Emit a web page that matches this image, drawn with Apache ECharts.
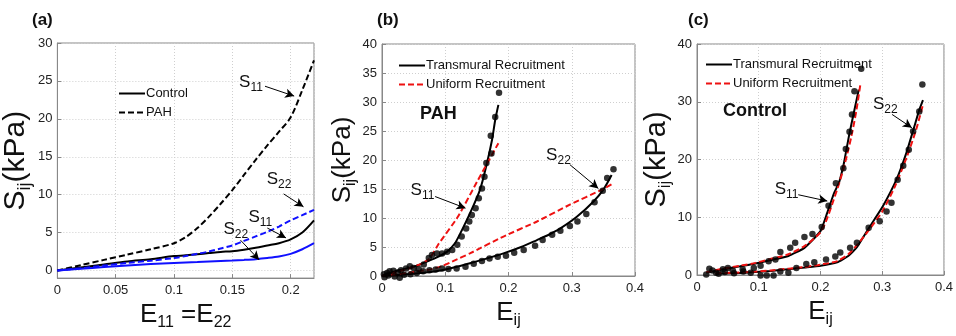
<!DOCTYPE html>
<html><head><meta charset="utf-8">
<script src="https://cdn.jsdelivr.net/npm/echarts@6.0.0/dist/echarts.min.js"></script>
<style>html,body{margin:0;padding:0;background:#fff}#c{width:956px;height:336px}</style>
</head><body><div id="c"></div>
<script>
// ---------- Panel (a): model curves, E11 = E22 ----------
const A_E        = [0, 0.02, 0.04, 0.06, 0.08, 0.10, 0.11, 0.12, 0.13, 0.14, 0.15, 0.16, 0.17, 0.18, 0.19, 0.20, 0.21, 0.22];
const A_PAH_S11  = [0, 0.7, 1.4, 2.1, 2.8, 3.6, 4.4, 5.6, 7.1, 8.8, 10.6, 12.6, 14.6, 16.5, 18.3, 20.2, 23.8, 27.7];
const A_CTL_S11  = [0, 0.4, 0.8, 1.2, 1.5, 1.9, 2.0, 2.15, 2.3, 2.45, 2.55, 2.75, 3.0, 3.3, 3.6, 4.1, 5.0, 6.6];
const A_PAH_S22  = [0, 0.3, 0.65, 1.0, 1.3, 1.65, 1.9, 2.2, 2.5, 2.9, 3.3, 3.9, 4.5, 5.1, 5.8, 6.6, 7.3, 8.0];
const A_CTL_S22  = [0, 0.23, 0.45, 0.65, 0.85, 1.0, 1.07, 1.13, 1.2, 1.26, 1.32, 1.4, 1.5, 1.65, 1.85, 2.2, 2.8, 3.6];
const A_X_TICKS  = [0, 0.05, 0.1, 0.15, 0.2];
const A_Y_TICKS  = [0, 5, 10, 15, 20, 25, 30];

// ---------- Panel (b): PAH ----------
const B_S11_T_E = [0, 0.024, 0.05, 0.071, 0.09, 0.103, 0.115, 0.124, 0.139, 0.155, 0.166, 0.174, 0.179, 0.184];
const B_S11_T   = [0, 0.9, 1.6, 2.5, 3.4, 4.2, 5.6, 7.4, 10.8, 14.9, 19.5, 23.5, 26.9, 29.5];
const B_S11_U_E = [0, 0.02, 0.04, 0.06, 0.075, 0.09, 0.12, 0.15, 0.184];
const B_S11_U   = [0, 0.6, 1.2, 2.0, 3.0, 5.6, 10.2, 16.2, 22.9];
const B_S22_T_E = [0, 0.03, 0.06, 0.09, 0.115, 0.139, 0.165, 0.192, 0.22, 0.245, 0.265, 0.282, 0.308, 0.334, 0.35, 0.363];
const B_S22_T   = [0, 0.2, 0.5, 0.9, 1.5, 2.2, 3.0, 3.9, 5.0, 6.2, 7.2, 8.2, 10.2, 12.8, 14.9, 17.4];
const B_S22_U_E = [0, 0.025, 0.05, 0.075, 0.095, 0.115, 0.139, 0.192, 0.245, 0.297, 0.35, 0.366];
const B_S22_U   = [0, 0.3, 0.7, 1.1, 1.7, 2.7, 3.9, 6.8, 9.4, 12.3, 15.0, 16.0];
const B_S11_PTS_E = [0.003, 0.008, 0.012, 0.018, 0.025, 0.03, 0.038, 0.044, 0.05, 0.058, 0.066, 0.074, 0.079, 0.087, 0.095, 0.103, 0.111, 0.119, 0.126, 0.133, 0.138, 0.142, 0.148, 0.153, 0.158, 0.162, 0.165, 0.172, 0.173, 0.179, 0.185];
const B_S11_PTS   = [0.3, 0.5, 0.8, 0.9, 0.6, 1.0, 1.3, 1.7, 1.4, 1.2, 2.0, 3.1, 3.6, 3.9, 3.9, 4.2, 4.5, 5.4, 6.8, 8.2, 9.4, 10.5, 11.7, 13.4, 15.1, 17.1, 19.5, 24.2, 21.1, 27.4, 31.6];
const B_S22_PTS_E = [0.004, 0.01, 0.02, 0.028, 0.035, 0.045, 0.055, 0.065, 0.075, 0.085, 0.095, 0.105, 0.118, 0.132, 0.145, 0.158, 0.17, 0.183, 0.196, 0.209, 0.224, 0.242, 0.254, 0.269, 0.282, 0.297, 0.309, 0.323, 0.336, 0.349, 0.356, 0.366];
const B_S22_PTS   = [-0.2, 0.1, -0.1, -0.3, 0.2, 0.3, 0.5, 0.8, 1.0, 1.1, 1.3, 1.2, 1.3, 1.6, 2.1, 2.6, 3.0, 3.3, 3.5, 4.0, 4.5, 5.2, 6.2, 7.1, 7.8, 8.6, 9.4, 10.7, 12.7, 14.7, 16.9, 18.4];

// ---------- Panel (c): Control ----------
const C_S11_T_E = [0.015, 0.042, 0.07, 0.095, 0.12, 0.148, 0.174, 0.2, 0.211, 0.222, 0.23, 0.238, 0.246, 0.254, 0.262];
const C_S11_T   = [0.4, 1.0, 1.5, 2.0, 2.6, 3.3, 4.7, 7.6, 10.8, 14.2, 16.0, 19.4, 24.0, 28.1, 32.1];
const C_S11_U_E = [0.015, 0.042, 0.07, 0.095, 0.12, 0.148, 0.174, 0.2, 0.21, 0.22, 0.23, 0.24, 0.25, 0.258, 0.265];
const C_S11_U   = [0.5, 1.1, 1.6, 2.1, 2.8, 3.6, 5.0, 7.4, 9.6, 12.6, 15.8, 19.5, 24.0, 28.4, 33.3];
const C_S22_T_E = [0.03, 0.06, 0.095, 0.12, 0.148, 0.175, 0.2, 0.227, 0.245, 0.259, 0.28, 0.301, 0.323, 0.339, 0.352, 0.36, 0.366];
const C_S22_T   = [0.2, 0.3, 0.5, 0.7, 1.0, 1.3, 1.6, 2.2, 3.3, 4.8, 8.4, 11.9, 16.5, 21.1, 25.7, 28.6, 30.3];
const C_S22_U_E = [0.03, 0.06, 0.095, 0.12, 0.148, 0.175, 0.2, 0.227, 0.245, 0.26, 0.28, 0.3, 0.32, 0.34, 0.355, 0.366];
const C_S22_U   = [0.3, 0.4, 0.6, 0.8, 1.1, 1.4, 1.8, 2.4, 3.6, 5.3, 8.0, 11.0, 15.2, 20.5, 25.2, 29.5];
const C_S11_PTS_E = [0.015, 0.02, 0.031, 0.042, 0.05, 0.058, 0.074, 0.092, 0.103, 0.116, 0.127, 0.135, 0.151, 0.159, 0.174, 0.187, 0.202, 0.213, 0.225, 0.237, 0.241, 0.247, 0.251, 0.255, 0.266];
const C_S11_PTS   = [0.1, 1.1, 0.4, 1.0, 1.2, 0.8, 1.0, 1.2, 1.6, 2.4, 2.7, 4.0, 4.7, 5.6, 6.6, 7.1, 8.3, 12.0, 15.9, 18.5, 21.8, 24.8, 27.8, 31.8, 35.7];
const C_S22_PTS_E = [0.025, 0.035, 0.045, 0.06, 0.075, 0.087, 0.103, 0.113, 0.124, 0.135, 0.148, 0.161, 0.177, 0.19, 0.209, 0.224, 0.232, 0.248, 0.259, 0.278, 0.296, 0.307, 0.315, 0.325, 0.334, 0.343, 0.35, 0.36, 0.365];
const C_S22_PTS   = [0.8, 0.2, 0.5, 0.3, 0.6, 0.4, -0.1, -0.1, -0.1, 0.6, 0.4, 1.2, 1.9, 2.2, 2.7, 3.2, 3.9, 4.7, 5.6, 8.2, 9.3, 11.0, 12.5, 16.5, 18.9, 21.7, 24.9, 28.3, 33.0];

// ---------- annotation labels (text, label point, arrow tail, arrow head) in data units ----------
const A_NOTES = [
  {sub: '11', at: [0.166, 24.7], from: [0.178, 24.3], to: [0.203, 23.0]},
  {sub: '22', at: [0.190, 11.9], from: [0.194, 10.1], to: [0.211, 8.4]},
  {sub: '11', at: [0.174, 6.9],  from: [0.180, 5.6],  to: [0.196, 4.3]},
  {sub: '22', at: [0.153, 5.3],  from: [0.157, 4.0],  to: [0.173, 1.4]}
];
const B_NOTES = [
  {sub: '11', at: [0.064, 14.6], from: [0.084, 13.7], to: [0.132, 11.7]},
  {sub: '22', at: [0.279, 20.6], from: [0.297, 19.2], to: [0.342, 15.1]}
];
const C_NOTES = [
  {sub: '11', at: [0.145, 14.6], from: [0.164, 13.9], to: [0.211, 12.8]},
  {sub: '22', at: [0.305, 29.4], from: [0.316, 27.8], to: [0.348, 25.5]}
];

const zip = (xs, ys) => xs.map((x, i) => [x, ys[i]]);
const FONT = 'Liberation Sans, Arial, sans-serif';
const BLUE = '#1010ff', RED = '#ee1111';

function richName(fs, ss, pad) {
  return {
    m: {fontSize: fs, lineHeight: fs + 2, verticalAlign: 'top', fontFamily: FONT, color: '#111'},
    b: {fontSize: ss, lineHeight: ss, verticalAlign: 'top', padding: [pad, 0, 0, 0], fontFamily: FONT, color: '#111'}
  };
}
function xAxis(gi, max, interval, name, gap, rich, hideMax) {
  return {
    type: 'value', gridIndex: gi, min: 0, max: max, interval: interval,
    name: name, nameLocation: 'middle', nameGap: gap,
    nameTextStyle: {rich: rich},
    axisLine: {show: true, onZero: false, lineStyle: {color: '#888'}},
    axisTick: {show: true, inside: true, length: 4, lineStyle: {color: '#888'}},
    axisLabel: {fontFamily: FONT, fontSize: 13, color: '#222', margin: 6, showMaxLabel: !hideMax, hideOverlap: false},
    splitLine: {show: true, lineStyle: {color: '#cfcfcf', type: [1, 2]}}
  };
}
function yAxis(gi, min, max, step, name, gap, rich, hideMin) {
  return {
    type: 'value', gridIndex: gi, min: min, max: max, minInterval: step, maxInterval: step, splitNumber: 8,
    name: name, nameLocation: 'middle', nameGap: gap,
    nameTextStyle: {rich: rich},
    axisLine: {show: true, lineStyle: {color: '#888'}},
    axisTick: {show: true, inside: true, length: 4, lineStyle: {color: '#888'}},
    axisLabel: {fontFamily: FONT, fontSize: 13, color: '#222', margin: 5, showMinLabel: !hideMin, hideOverlap: false},
    splitLine: {show: true, lineStyle: {color: '#cfcfcf', type: [1, 2]}}
  };
}
function notes(list) {
  return {
    markLine: {
      silent: true, animation: false, symbol: ['none', 'arrow'], symbolSize: [7, 9],
      lineStyle: {color: '#000', width: 1, type: 'solid'}, label: {show: false},
      data: list.map(n => [{coord: n.from}, {coord: n.to}])
    },
    markPoint: {
      silent: true, animation: false, symbol: 'circle', symbolSize: 1, itemStyle: {color: 'rgba(0,0,0,0)'},
      label: {show: true, position: 'inside', formatter: p => '{m|S}{b|' + p.name + '}',
        rich: {
          m: {fontSize: 17, lineHeight: 19, verticalAlign: 'top', fontFamily: FONT, color: '#111'},
          b: {fontSize: 12, lineHeight: 12, verticalAlign: 'top', padding: [8, 0, 0, 0], fontFamily: FONT, color: '#111'}
        }},
      data: list.map(n => ({name: n.sub, coord: n.at}))
    }
  };
}
function line(name, gi, data, color, dashed, extra) {
  return Object.assign({
    type: 'line', name: name, xAxisIndex: gi, yAxisIndex: gi, data: data,
    symbol: 'none', smooth: 0.3, clip: false, silent: true,
    lineStyle: {color: color, width: 2, type: dashed ? [6, 3] : 'solid'},
    itemStyle: {color: color}, z: 3
  }, extra || {});
}
function dots(name, gi, data) {
  return {type: 'scatter', name: name, xAxisIndex: gi, yAxisIndex: gi, data: data,
    symbol: 'circle', symbolSize: 6.5, clip: false, silent: true, itemStyle: {color: '#000'}, z: 4};
}
function legend(names, left, top) {
  return {data: names, orient: 'vertical', left: left, top: top, itemWidth: 26, itemHeight: 12, itemGap: 6,
    itemStyle: {opacity: 0, borderWidth: 0},
    textStyle: {fontFamily: FONT, fontSize: 13, color: '#111', padding: [0, 0, 0, -4]}, selectedMode: false};
}

const yRichA = richName(30, 18, 15);
const yRichB = richName(26, 16, 13);
const yRichC = richName(29, 17, 14);
const xRich = richName(26, 16, 13);

const option = {
  backgroundColor: '#fff',
  animation: false,
  title: [
    {text: '(a)', left: 27, top: 7, textStyle: {fontFamily: FONT, fontSize: 17, fontWeight: 'bold', color: '#111'}},
    {text: '(b)', left: 372, top: 7, textStyle: {fontFamily: FONT, fontSize: 17, fontWeight: 'bold', color: '#111'}},
    {text: '(c)', left: 683, top: 7, textStyle: {fontFamily: FONT, fontSize: 17, fontWeight: 'bold', color: '#111'}},
    {text: 'PAH', left: 415, top: 100, textStyle: {fontFamily: FONT, fontSize: 18, fontWeight: 'bold', color: '#111'}},
    {text: 'Control', left: 718, top: 97, textStyle: {fontFamily: FONT, fontSize: 18, fontWeight: 'bold', color: '#111'}}
  ],
  legend: [
    legend(['Control', 'PAH'], 113, 82),
    legend(['Transmural Recruitment', 'Uniform Recruitment'], 393, 54),
    legend(['Transmural Recruitment', 'Uniform Recruitment'], 700, 53)
  ],
  grid: [
    {left: 55, top: 43, width: 259, height: 238, show: true, borderColor: '#888', borderWidth: 1, backgroundColor: 'transparent'},
    {left: 382, top: 44, width: 253, height: 232, show: true, borderColor: '#888', borderWidth: 1, backgroundColor: 'transparent'},
    {left: 697, top: 44, width: 252, height: 231, show: true, borderColor: '#888', borderWidth: 1, backgroundColor: 'transparent'}
  ],
  xAxis: [
    xAxis(0, 0.22, 0.05, '{m|E}{b|11}{m| =E}{b|22}', 10, xRich, true),
    xAxis(1, 0.4, 0.1, '{m|E}{b|ij}', 17, xRich, false),
    xAxis(2, 0.4, 0.1, '{m|E}{b|ij}', 17, xRich, false)
  ],
  yAxis: [
    yAxis(0, -1, 30, 5, '{m|S}{b|ij}{m|(kPa)}', 16, yRichA, true),
    yAxis(1, 0, 40, 5, '{m|S}{b|ij}{m|(kPa)}', 20, yRichB, false),
    yAxis(2, 0, 40, 10, '{m|S}{b|ij}{m|(kPa)}', 16, yRichC, false)
  ],
  series: [
    line('Control', 0, zip(A_E, A_CTL_S11), '#000', false, notes(A_NOTES)),
    line('PAH', 0, zip(A_E, A_PAH_S11), '#000', true),
    line('Control S22', 0, zip(A_E, A_CTL_S22), BLUE, false),
    line('PAH S22', 0, zip(A_E, A_PAH_S22), BLUE, true),

    line('Transmural Recruitment', 1, zip(B_S11_T_E, B_S11_T), '#000', false, notes(B_NOTES)),
    line('Transmural Recruitment', 1, zip(B_S22_T_E, B_S22_T), '#000', false),
    line('Uniform Recruitment', 1, zip(B_S11_U_E, B_S11_U), RED, true, {smooth: 0.15}),
    line('Uniform Recruitment', 1, zip(B_S22_U_E, B_S22_U), RED, true, {smooth: 0.15}),
    dots('PAH data S11', 1, zip(B_S11_PTS_E, B_S11_PTS)),
    dots('PAH data S22', 1, zip(B_S22_PTS_E, B_S22_PTS)),

    line('Transmural Recruitment', 2, zip(C_S11_T_E, C_S11_T), '#000', false, Object.assign({smooth: 0.15}, notes(C_NOTES))),
    line('Transmural Recruitment', 2, zip(C_S22_T_E, C_S22_T), '#000', false, {smooth: 0.15}),
    line('Uniform Recruitment', 2, zip(C_S11_U_E, C_S11_U), RED, true, {smooth: 0.25}),
    line('Uniform Recruitment', 2, zip(C_S22_U_E, C_S22_U), RED, true, {smooth: 0.25}),
    dots('Control data S11', 2, zip(C_S11_PTS_E, C_S11_PTS)),
    dots('Control data S22', 2, zip(C_S22_PTS_E, C_S22_PTS))
  ]
};
const chart = echarts.init(document.getElementById('c'), null, {renderer: 'canvas'});
chart.setOption(option);
</script></body></html>
